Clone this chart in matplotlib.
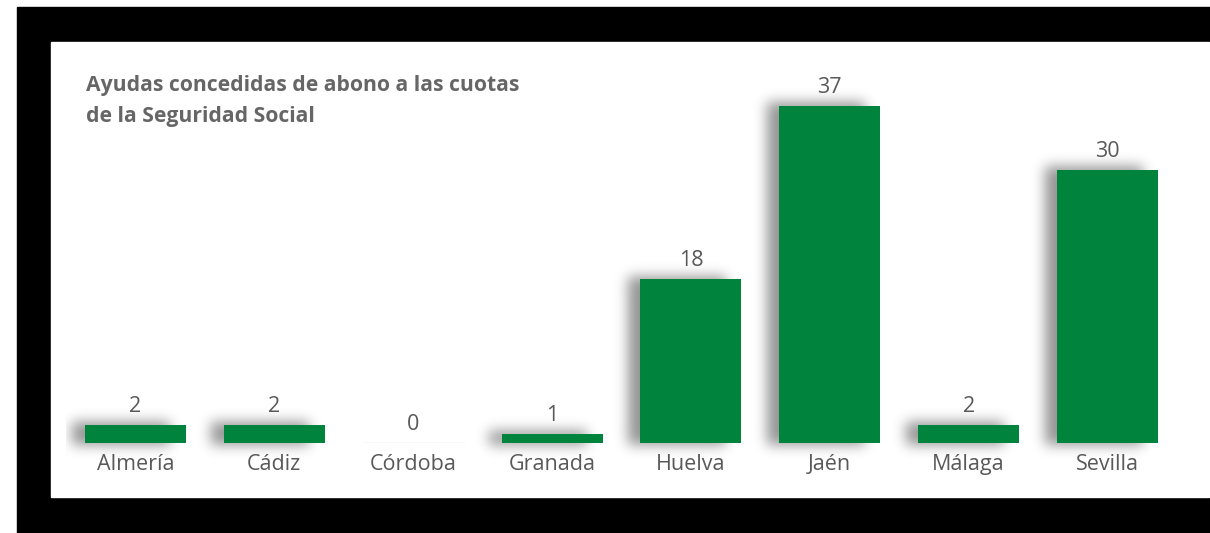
import matplotlib
matplotlib.use("Agg")
import numpy as np
import matplotlib.pyplot as plt
from matplotlib.patches import Rectangle

# data
provincias = ["Almería", "Cádiz", "Córdoba", "Granada", "Huelva", "Jaén", "Málaga", "Sevilla"]
ayudas = [2, 2, 0, 1, 18, 37, 2, 30]
titulo = ["Ayudas concedidas de abono a las cuotas", "de la Seguridad Social"]

W, H = 1210, 533
verde = "#00843d"
gris = "#595959"
plt.rcParams["font.family"] = ["Open Sans", "DejaVu Sans"]

fig = plt.figure(figsize=(W / 100, H / 100), dpi=100)
fig.patch.set_facecolor("white")


# pixel box (from top-left) -> figure fraction
def px_box(x0, y0, x1, y1):
    return [x0 / W, (H - y1) / H, (x1 - x0) / W, (y1 - y0) / H]


# black frame and white panel behind the chart
fig.patches.append(Rectangle((17 / W, 0), 1 - 17 / W, (H - 7) / H,
                             transform=fig.transFigure, color="black", zorder=-2))
fig.patches.append(Rectangle((51 / W, (H - 497) / H), (1209 - 51) / W, (497 - 42) / H,
                             transform=fig.transFigure, color="white", zorder=-1))

ax = fig.add_axes(px_box(66, 78.6, 1177, 443))
ax.set_zorder(2)
ax.patch.set_alpha(0)
ax.axis("off")

ancho = 0.727
ppx = 139.0   # pixels per category
ppy = 9.11    # pixels per unit

# soft shadow: blurred rectangles shifted to the left
y_lo, y_hi = -4, 42
nx, ny = 1111, int((y_hi - y_lo) * ppy)
xs = -0.5 + (np.arange(nx) + 0.5) / ppx
ys = y_lo + (np.arange(ny) + 0.5) / ppy
mask = np.zeros((ny, nx))
for i, v in enumerate(ayudas):
    if v == 0:
        continue
    cx = (xs >= i - ancho / 2 - 13 / ppx) & (xs <= i + ancho / 2 - 16 / ppx)
    cy = (ys >= -2 / ppy) & (ys <= v + 2 / ppy)
    mask[np.ix_(cy, cx)] = 1.0

sig = 6.5
t = np.arange(-22, 23)
kern = np.exp(-t ** 2 / (2 * sig ** 2))
kern /= kern.sum()
blur = np.apply_along_axis(lambda r: np.convolve(r, kern, mode="same"), 1, mask)
blur = np.apply_along_axis(lambda c: np.convolve(c, kern, mode="same"), 0, blur)
img = np.zeros((ny, nx, 4))
img[..., 3] = blur * 0.42
ax.imshow(img, extent=(-0.5, len(provincias) - 0.5, y_lo, y_hi), origin="lower",
          aspect="auto", interpolation="bilinear", zorder=1, clip_on=False)
ax.set_xlim(-0.5, len(provincias) - 0.5)
ax.set_ylim(0, 40)

ax.bar(range(len(provincias)), ayudas, width=ancho, color=verde, zorder=3)

for i, v in enumerate(ayudas):
    if v == 0:
        ax.plot([i - ancho / 2, i + ancho / 2], [0, 0], color="#d5e3da", lw=1, zorder=3)
    ax.annotate(str(v), (i, v), xytext=(0, 9.5), textcoords="offset points",
                ha="center", va="baseline", fontsize=15.5, color=gris)
    ax.annotate(provincias[i], (i, 0), xytext=(0, -19.4), textcoords="offset points",
                ha="center", va="baseline", fontsize=15.5, color=gris)

for j, linea in enumerate(titulo):
    fig.text(86 / W, (H - 91 - 31 * j) / H, linea, ha="left", va="baseline", fontsize=15.2,
             fontweight="bold", color="#666666")

fig.savefig("out.png", dpi=100, facecolor="white")
